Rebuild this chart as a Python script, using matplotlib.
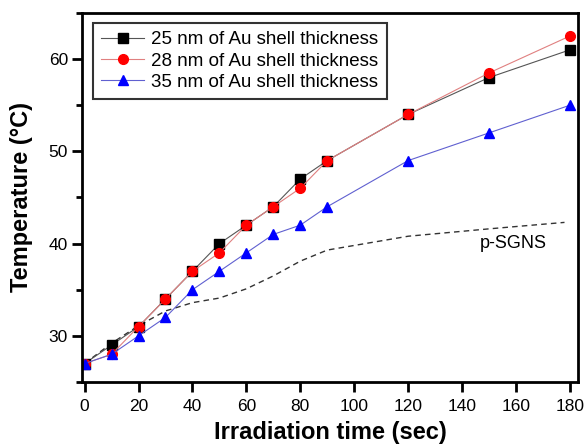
import matplotlib
matplotlib.use("Agg")
import matplotlib.pyplot as plt
from matplotlib.ticker import MultipleLocator

plt.rcParams['font.family'] = ['Liberation Sans', 'DejaVu Sans']

time = [0, 10, 20, 30, 40, 50, 60, 70, 80, 90, 120, 150, 180]
temp_25nm = [27, 29, 31, 34, 37, 40, 42, 44, 47, 49, 54, 58, 61]
temp_28nm = [27, 28, 31, 34, 37, 39, 42, 44, 46, 49, 54, 58.5, 62.5]
temp_35nm = [27, 28, 30, 32, 35, 37, 39, 41, 42, 44, 49, 52, 55]

psgns_time = [0, 10, 20, 30, 40, 50, 60, 70, 80, 90, 120, 150, 178]
psgns_temp = [27.0, 29.2, 31.1, 32.7, 33.6, 34.1, 35.1, 36.5, 38.1, 39.3, 40.8, 41.6, 42.3]

labels = ["25 nm of Au shell thickness",
          "28 nm of Au shell thickness",
          "35 nm of Au shell thickness"]

fig = plt.figure(figsize=(5.85, 4.47), dpi=100)
ax = fig.add_axes([0.140, 0.1454, 0.848, 0.8256])

ax.plot(psgns_time, psgns_temp, linestyle=(0, (4, 3)), color='#333333', lw=1.0)
ax.plot(time, temp_25nm, color='#555555', lw=0.8, marker='s', ms=6.5,
        mfc='black', mec='black', label=labels[0])
ax.plot(time, temp_28nm, color='#e08080', lw=0.8, marker='o', ms=7,
        mfc='#ff0000', mec='#ff0000', label=labels[1])
ax.plot(time, temp_35nm, color='#6060d0', lw=0.8, marker='^', ms=7.5,
        mfc='#0000ff', mec='#0000ff', label=labels[2])

ax.text(146.5, 40, "p-SGNS", fontsize=13, va='center', ha='left')

ax.set_xlim(-1, 183)
ax.set_ylim(25, 65)
ax.set_xticks([0, 20, 40, 60, 80, 100, 120, 140, 160, 180])
ax.set_yticks([30, 40, 50, 60])
ax.yaxis.set_minor_locator(MultipleLocator(5))

for s in ax.spines.values():
    s.set_linewidth(2)
ax.tick_params(axis='both', which='major', direction='out', length=7, width=2,
               labelsize=12.5)
ax.tick_params(axis='x', which='major', pad=5)
ax.tick_params(axis='y', which='major', pad=3)
ax.tick_params(axis='y', which='minor', direction='out', length=4, width=2)
ax.tick_params(top=False, right=False)

ax.set_xlabel("Irradiation time (sec)", fontsize=17, fontweight='bold', labelpad=5)
ax.set_ylabel("Temperature (°C)", fontsize=17, fontweight='bold', labelpad=11)

leg = ax.legend(loc='upper left', bbox_to_anchor=(0.022, 0.973), fontsize=13.5,
                frameon=True, fancybox=False, edgecolor='black', borderpad=0.45,
                labelspacing=0.22, handlelength=2.3, handletextpad=0.35,
                borderaxespad=0)
leg.get_frame().set_linewidth(1.5)

fig.savefig("out.png", dpi=100)
